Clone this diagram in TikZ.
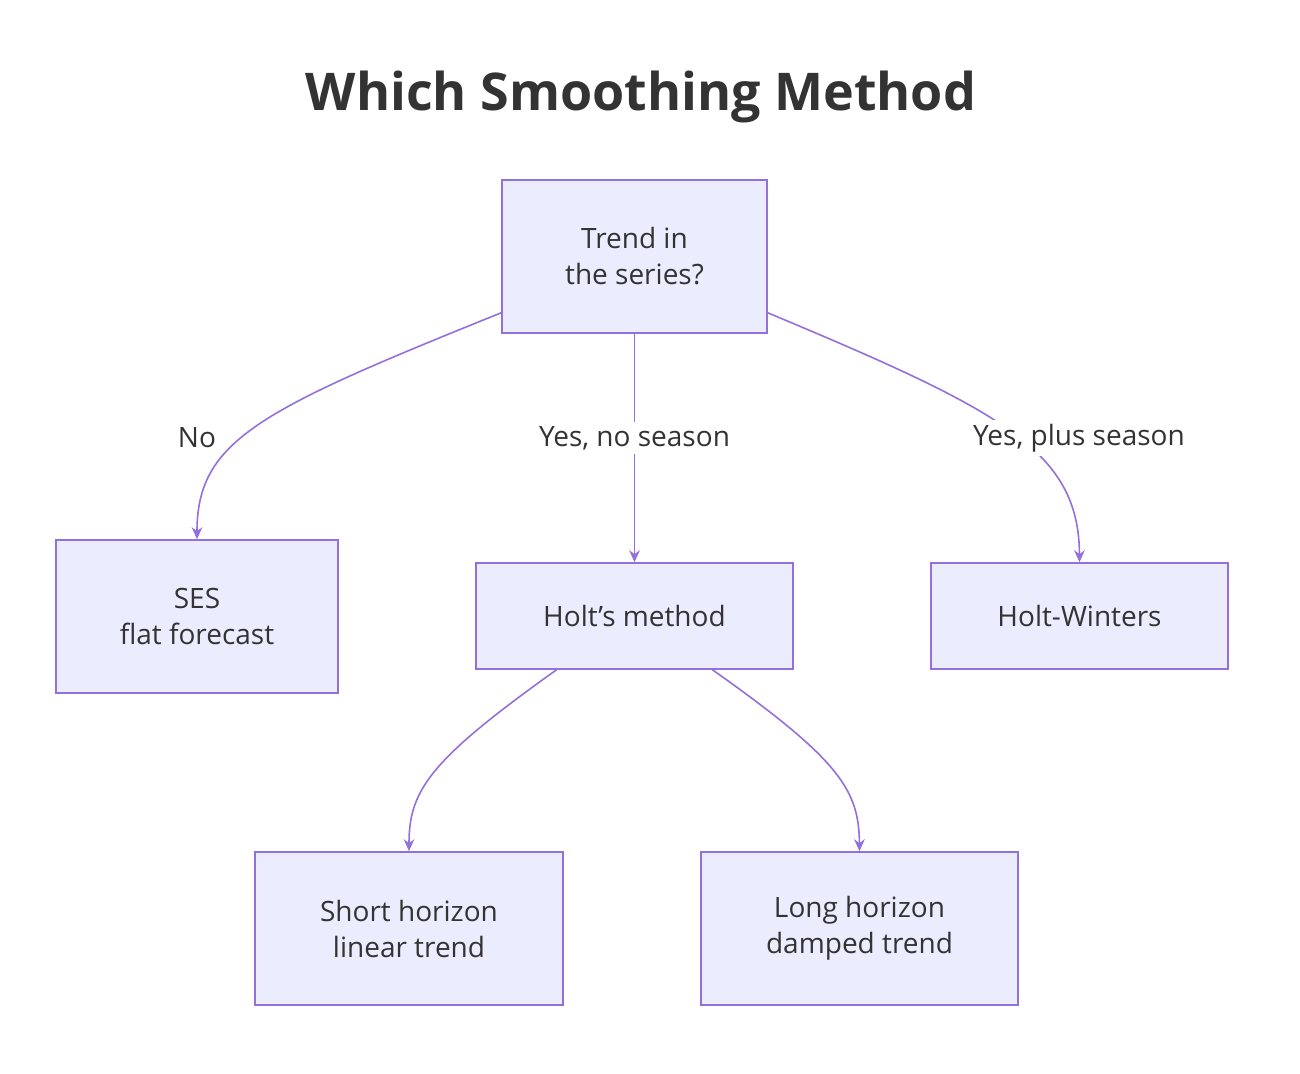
\documentclass[tikz,border=0pt]{standalone}
\usepackage{fontspec}
\setmainfont{Open Sans}
\usetikzlibrary{calc,arrows.meta}
\definecolor{boxfill}{HTML}{ECECFF}
\definecolor{boxline}{HTML}{9370DB}
\definecolor{ink}{HTML}{333333}
\begin{document}
\begin{tikzpicture}[x=0.75pt,y=-0.75pt]
            \tikzstyle{choice} = [draw=boxline, fill=boxfill, line width=1.2pt, text=ink, font=\fontsize{21}{27}\selectfont, align=center, inner sep=0pt];
            \tikzstyle{edge} = [draw=boxline, line width=1.2pt, -{Stealth[length=9pt,width=8pt]}];
            \tikzstyle{tag} = [fill=white, text=ink, font=\fontsize{21}{27}\selectfont, inner sep=3pt];
            \useasboundingbox (0,0) rectangle (1300,1074);
            \node [text=ink, font=\fontsize{39}{45}\selectfont\bfseries] (title) at (641,97) {Which Smoothing Method};

            \node [choice, minimum width=265*0.75pt, minimum height=153*0.75pt] (trend) at (634.5,256.5) {Trend in\\the series?};

            \node [choice, minimum width=282*0.75pt, minimum height=153*0.75pt] (ses) at (197,616.5) {SES\\flat forecast};
            \node [choice, minimum width=317*0.75pt, minimum height=106*0.75pt] (holt) at (634.5,616) {Holt's method};
            \node [choice, minimum width=297*0.75pt, minimum height=106*0.75pt] (hw) at (1079.5,616) {Holt-Winters};

            \node [choice, minimum width=308*0.75pt, minimum height=153*0.75pt] (short) at (409,928.5) {Short horizon\\linear trend};
            \node [choice, minimum width=317*0.75pt, minimum height=153*0.75pt] (long) at (859.5,928.5) {Long horizon\\damped trend};

            \draw [edge] ($(trend.south west)+(0,-21)$) .. controls (260,410) and (197,440) .. (ses.north);
            \draw [edge] (trend.south) -- (holt.north);
            \draw [edge] ($(trend.south east)+(0,-21)$) .. controls (1000,410) and (1079,450) .. (hw.north);
            \draw [edge] ($(holt.south)+(-78,0)$) .. controls (430,760) and (409,790) .. (short.north);
            \draw [edge] ($(holt.south)+(78,0)$) .. controls (840,760) and (859,790) .. (long.north);

            \node [tag] (no) at (197,438) {No};
            \node [tag] (yesno) at (634.5,438) {Yes, no season};
            \node [tag] (yesplus) at (1079,438) {Yes, plus season};
\end{tikzpicture}
\end{document}
